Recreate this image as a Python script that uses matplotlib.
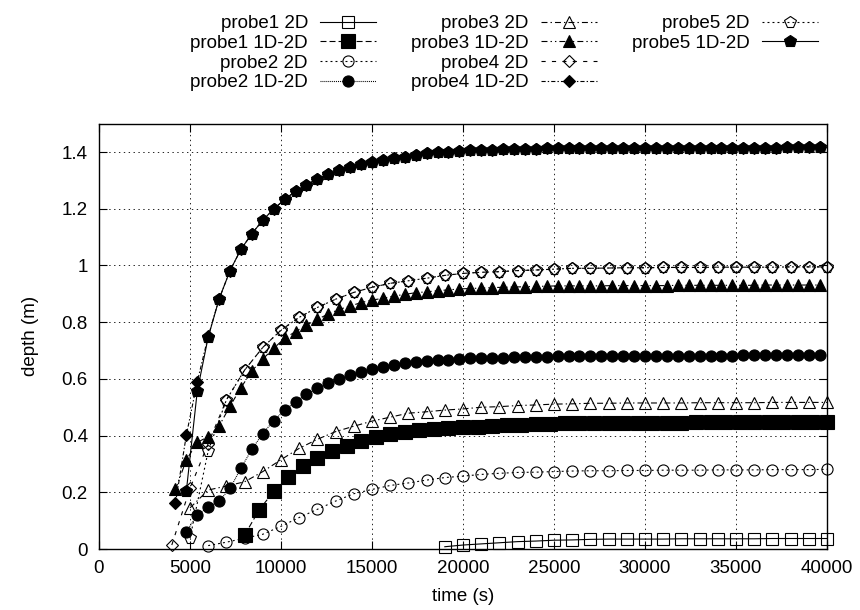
import numpy as np
import matplotlib
matplotlib.use("Agg")
import matplotlib.pyplot as plt
from matplotlib.lines import Line2D
from matplotlib.ticker import FuncFormatter

plt.rcParams['font.family'] = ['Liberation Sans', 'DejaVu Sans']
plt.rcParams['lines.scale_dashes'] = False

# ---------------- data ----------------
# sample times (s)
t_p1_2d = np.arange(19000, 40001, 1000)
t_p1_1d = np.arange(8000, 40001, 800)
t_p2_2d = np.arange(6000, 40001, 1000)
t_p2_1d = np.arange(4800, 39601, 600)
t_p3_2d = np.arange(5000, 40001, 1000)
t_p3_1d = np.arange(4200, 39601, 600)
t_p4_2d = np.arange(4000, 40001, 1000)
t_p4_1d = np.arange(4200, 39601, 600)
t_p5_2d = np.arange(5000, 40001, 1000)
t_p5_1d = np.arange(4800, 39601, 600)

probe1_2d = [0.008, 0.014, 0.018, 0.022, 0.026, 0.028, 0.031, 0.032, 0.034,
             0.035, 0.035, 0.035, 0.035, 0.036, 0.036, 0.036, 0.036, 0.036,
             0.037, 0.037, 0.037, 0.037]

probe1_1d2d = [0.049, 0.138, 0.203, 0.255, 0.293, 0.321, 0.345, 0.363, 0.382,
               0.394, 0.404, 0.413, 0.419, 0.423, 0.426, 0.429, 0.431, 0.434,
               0.436, 0.438, 0.440, 0.441, 0.443, 0.444, 0.444, 0.445,
               0.445, 0.445, 0.446, 0.446, 0.446, 0.447, 0.447, 0.447, 0.447,
               0.448, 0.448, 0.448, 0.448, 0.449, 0.449]

probe2_2d = [0.012, 0.024, 0.038, 0.052, 0.080, 0.111, 0.140, 0.169, 0.195,
             0.210, 0.224, 0.233, 0.243, 0.252, 0.257, 0.263, 0.267, 0.270,
             0.271, 0.273, 0.275, 0.276, 0.276, 0.277, 0.277, 0.278, 0.278,
             0.278, 0.279, 0.279, 0.279, 0.280, 0.280, 0.280, 0.281]

probe2_1d2d = [0.061, 0.120, 0.149, 0.169, 0.214, 0.285, 0.352, 0.407, 0.453,
               0.489, 0.520, 0.545, 0.567, 0.585, 0.600, 0.612, 0.625, 0.636,
               0.643, 0.649, 0.655, 0.660, 0.663, 0.666, 0.668, 0.670, 0.672,
               0.673, 0.674, 0.675, 0.676, 0.677, 0.678, 0.678, 0.679, 0.679,
               0.680, 0.680, 0.680,
               0.681, 0.681, 0.681, 0.681, 0.681, 0.681,
               0.682, 0.682, 0.682, 0.682, 0.682, 0.682,
               0.683, 0.683, 0.683, 0.683,
               0.684, 0.684, 0.684, 0.684]

probe3_2d = [0.145, 0.208, 0.222, 0.237, 0.273, 0.315, 0.355, 0.387, 0.414,
             0.433, 0.451, 0.465, 0.479, 0.484, 0.490, 0.494, 0.500, 0.502,
             0.506, 0.508, 0.511, 0.512, 0.514,
             0.514, 0.515, 0.515, 0.515, 0.515, 0.516, 0.516, 0.516, 0.516,
             0.517, 0.517, 0.517, 0.517]

probe3_1d2d = [0.210, 0.314, 0.376, 0.396, 0.434, 0.504, 0.569, 0.628, 0.670,
               0.708, 0.743, 0.767, 0.790, 0.810, 0.829, 0.845, 0.857, 0.869,
               0.878, 0.884, 0.892, 0.898, 0.904, 0.907, 0.911, 0.914, 0.917,
               0.919, 0.920, 0.922, 0.923, 0.924, 0.925, 0.926, 0.927, 0.928,
               0.928, 0.928, 0.928, 0.928,
               0.929, 0.929, 0.929, 0.929, 0.929, 0.929,
               0.930, 0.930, 0.930, 0.930, 0.930, 0.930, 0.930, 0.930,
               0.931, 0.931, 0.931, 0.931, 0.931, 0.931]

probe4_2d = [0.014, 0.214, 0.372, 0.526, 0.631, 0.711, 0.772, 0.817, 0.852,
             0.881, 0.905, 0.923, 0.937, 0.946, 0.955, 0.965, 0.972, 0.976,
             0.978, 0.982, 0.984, 0.987, 0.990, 0.990, 0.991, 0.992, 0.992,
             0.993, 0.993, 0.993, 0.994, 0.994, 0.994, 0.994, 0.995, 0.995,
             0.995]

probe4_1d2d = [0.161, 0.402, 0.590, 0.750, 0.882, 0.982, 1.057, 1.112, 1.160,
               1.199, 1.233, 1.262, 1.285, 1.305, 1.322, 1.336, 1.348, 1.357,
               1.364, 1.371, 1.378, 1.384, 1.390, 1.396, 1.399, 1.401, 1.405,
               1.407, 1.408, 1.409, 1.410, 1.411, 1.412, 1.412, 1.413,
               1.413, 1.413, 1.413, 1.413, 1.413,
               1.414, 1.414, 1.414, 1.414, 1.414, 1.414,
               1.415, 1.415, 1.415, 1.415, 1.415, 1.415,
               1.416, 1.416, 1.416, 1.416,
               1.417, 1.417, 1.417, 1.417]

probe5_2d = [0.038, 0.346, 0.526, 0.631, 0.711, 0.772, 0.817, 0.852,
             0.881, 0.905, 0.923, 0.937, 0.946, 0.955, 0.965, 0.972, 0.976,
             0.978, 0.982, 0.984, 0.987, 0.990, 0.990, 0.991, 0.992, 0.992,
             0.993, 0.993, 0.993, 0.994, 0.994, 0.994, 0.994, 0.995, 0.995,
             0.995]

probe5_1d2d = [0.205, 0.557, 0.747, 0.882, 0.982, 1.057, 1.112, 1.160,
               1.199, 1.233, 1.262, 1.285, 1.305, 1.322, 1.336, 1.348, 1.357,
               1.364, 1.371, 1.378, 1.384, 1.390, 1.396, 1.399, 1.401, 1.405,
               1.407, 1.408, 1.409, 1.410, 1.411, 1.412, 1.412, 1.413,
               1.413, 1.413, 1.413, 1.413, 1.413,
               1.414, 1.414, 1.414, 1.414, 1.414, 1.414,
               1.415, 1.415, 1.415, 1.415, 1.415, 1.415,
               1.416, 1.416, 1.416, 1.416,
               1.417, 1.417, 1.417, 1.417]

labels = ["probe1 2D", "probe1 1D-2D", "probe2 2D", "probe2 1D-2D",
          "probe3 2D", "probe3 1D-2D", "probe4 2D", "probe4 1D-2D",
          "probe5 2D", "probe5 1D-2D"]

x_ticks = [0, 5000, 10000, 15000, 20000, 25000, 30000, 35000, 40000]
y_ticks = [0, 0.2, 0.4, 0.6, 0.8, 1.0, 1.2, 1.4]

# ---------------- styles ----------------
lw = 0.8
styles = [
    dict(ls='-', marker='s', ms=8.5, mfc='none'),
    dict(ls=(0, (4.3, 2.2)), marker='s', ms=9.5, mfc='k'),
    dict(ls=(0, (1.4, 2.2)), marker='o', ms=8, mfc='none'),
    dict(ls=(0, (0.7, 0.7)), marker='o', ms=8, mfc='k'),
    dict(ls=(0, (4.3, 2.2, 1.0, 2.2)), marker='^', ms=8, mfc='none'),
    dict(ls=(0, (4.3, 2.2, 1.0, 2.2, 1.0, 2.2)), marker='^', ms=8, mfc='k'),
    dict(ls=(0, (3.0, 4.5)), marker='D', ms=6, mfc='none'),
    dict(ls=(0, (3.0, 1.5, 1.0, 1.5)), marker='D', ms=6.5, mfc='k'),
    dict(ls=(0, (1.4, 2.2)), marker='p', ms=8.5, mfc='none'),
    dict(ls='-', marker='p', ms=9, mfc='k'),
]

series = [(t_p1_2d, probe1_2d), (t_p1_1d, probe1_1d2d),
          (t_p2_2d, probe2_2d), (t_p2_1d, probe2_1d2d),
          (t_p3_2d, probe3_2d), (t_p3_1d, probe3_1d2d),
          (t_p4_2d, probe4_2d), (t_p4_1d, probe4_1d2d),
          (t_p5_2d, probe5_2d), (t_p5_1d, probe5_1d2d)]

# ---------------- figure ----------------
fig = plt.figure(figsize=(8.6, 6.1), dpi=100)
ax = fig.add_axes([99 / 860, 1 - 549 / 610, (827 - 99) / 860, (549 - 123.7) / 610])

handles = []
for (t, v), st, lab in zip(series, styles, labels):
    h, = ax.plot(t, v, color='k', lw=lw, linestyle=st['ls'], marker=st['marker'],
                 ms=st['ms'], mfc=st['mfc'], mec='k', mew=0.8, label=lab,
                 clip_on=False)
    handles.append(h)

ax.set_xlim(0, 40000)
ax.set_ylim(0, 1.5)
ax.set_xticks(x_ticks)
ax.set_yticks(y_ticks)
ax.yaxis.set_major_formatter(FuncFormatter(lambda v, p: '%g' % v))
ax.xaxis.set_major_formatter(FuncFormatter(lambda v, p: '%d' % v))
ax.tick_params(direction='in', length=6, width=0.8, top=True, right=True,
               labelsize=13.5, pad=8)
ax.grid(True, color='k', lw=0.6, linestyle=(0, (1.0, 2.5)))
for s in ax.spines.values():
    s.set_linewidth(1.0)

ax.set_xlabel('time (s)', fontsize=13.5, labelpad=8)
ax.set_ylabel('depth (m)', fontsize=13.5, labelpad=16)

blank = Line2D([], [], linestyle='none')
leg_handles = handles + [blank, blank]
leg_labels = labels + ['', '']
leg = ax.legend(leg_handles, leg_labels, ncol=3, markerfirst=False,
                loc='upper right', bbox_to_anchor=(818 / 860, 1 - 15 / 610),
                bbox_transform=fig.transFigure, frameon=False,
                fontsize=13.5, handlelength=3.0, handletextpad=0.65,
                columnspacing=1.85, labelspacing=0.14, borderpad=0,
                borderaxespad=0)

fig.savefig('out.png', dpi=100)
